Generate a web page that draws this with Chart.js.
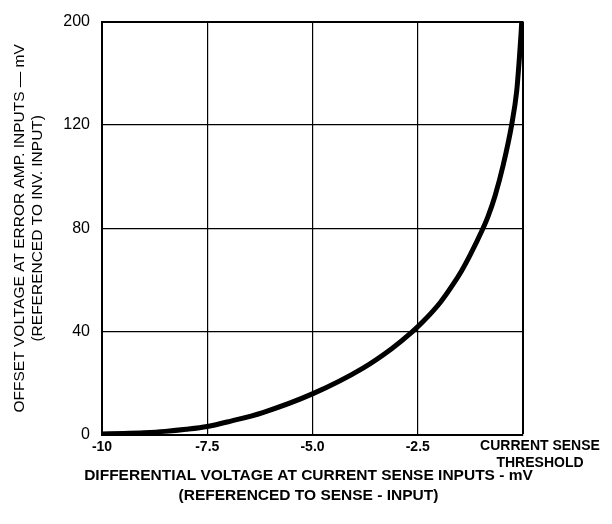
<!DOCTYPE html>
<html>
<head>
<meta charset="utf-8">
<script src="https://cdn.jsdelivr.net/npm/chart.js@4/dist/chart.umd.min.js"></script>
<style>
  html, body { margin: 0; padding: 0; background: #fff; }
  #wrap { width: 612px; height: 524px; }
</style>
</head>
<body>
<div id="wrap"><canvas id="c" width="612" height="524"></canvas></div>
<script>
// Differential voltage (mV)
const xValues = [-10, -9.5, -9, -8.5, -8, -7.5, -6.96, -6.18, -4.99, -3.8, -3.12, -2.64, -2.38, -1.97, -1.69, -1.46, -1.26, -0.96, -0.83, -0.665, -0.47, -0.27, -0.15, -0.09, -0.06, -0.04, -0.03];
// Offset voltage in grid units (each grid division = 40)
const yValues = [0.4, 0.6, 0.9, 1.4, 2.2, 3.3, 5.3, 8.7, 16.0, 25.9, 33.4, 39.8, 43.8, 51.2, 57.6, 63.5, 69.5, 79.6, 84.6, 92.5, 104.5, 120, 133, 145, 152, 157, 160];
const xTickValues = [-10, -7.5, -5, -2.5, 0];
const xTickLabels = ['-10', '-7.5', '-5.0', '-2.5', ''];
const thresholdLabel = ['CURRENT SENSE', 'THRESHOLD'];
const yTickValues = [0, 40, 80, 120, 160];
const yTickLabels = ['0', '40', '80', '120', '200'];
const xTitle = ['DIFFERENTIAL VOLTAGE AT CURRENT SENSE INPUTS - mV', '(REFERENCED TO SENSE - INPUT)'];
const yTitle = ['OFFSET VOLTAGE AT ERROR AMP. INPUTS \u2014 mV', '(REFERENCED TO INV. INPUT)'];

const points = xValues.map((x, i) => ({ x: x, y: yValues[i] }));
const FONT = '"Liberation Sans", Arial, sans-serif';

// Extra axis text: threshold tick label (offset right of the last gridline) and
// the x-axis title, which is wider than the plot area in the reference.
const axisTextPlugin = {
  id: 'axisText',
  afterDraw(chart) {
    const xs = chart.scales.x;
    const ctx = chart.ctx;
    const area = chart.chartArea;
    ctx.save();
    ctx.fillStyle = '#000';
    ctx.textAlign = 'center';
    ctx.textBaseline = 'middle';
    ctx.font = 'bold 14px ' + FONT;
    const px = xs.getPixelForValue(0) + 17;
    thresholdLabel.forEach((t, i) => ctx.fillText(t, px, area.bottom + 11 + i * 17));
    ctx.font = 'bold 15.5px ' + FONT;
    const cx = (area.left + area.right) / 2 - 4;
    xTitle.forEach((t, i) => ctx.fillText(t, cx, area.bottom + 41 + i * 20));
    ctx.restore();
  }
};

new Chart(document.getElementById('c'), {
  type: 'line',
  data: {
    datasets: [{
      data: points,
      borderColor: '#000',
      borderWidth: 5,
      pointRadius: 0,
      fill: false,
      cubicInterpolationMode: 'monotone'
    }]
  },
  options: {
    responsive: false,
    animation: false,
    layout: { padding: { top: 15, right: 89, left: 0, bottom: 0 } },
    plugins: { legend: { display: false }, tooltip: { enabled: false } },
    scales: {
      x: {
        type: 'linear',
        min: -10, max: 0,
        afterBuildTicks: s => { s.ticks = xTickValues.map(v => ({ value: v })); },
        afterFit: s => { s.height = 89; },
        grid: {
          color: '#000',
          lineWidth: c => (c.tick && c.tick.value === 0) ? 2 : 1.2,
          drawTicks: false
        },
        border: { color: '#000', width: 2 },
        ticks: {
          color: '#000',
          padding: 4,
          maxRotation: 0,
          autoSkip: false,
          font: { family: FONT, size: 14, weight: 'bold' },
          callback: (v) => { const i = xTickValues.indexOf(v); return i >= 0 ? xTickLabels[i] : ''; }
        },
        title: { display: false }
      },
      y: {
        type: 'linear',
        min: 0, max: 160,
        afterBuildTicks: s => { s.ticks = yTickValues.map(v => ({ value: v })); },
        afterFit: s => { s.width = 102; },
        grid: {
          color: '#000',
          lineWidth: c => (c.tick && c.tick.value === 160) ? 2 : 1.2,
          drawTicks: false
        },
        border: { color: '#000', width: 2 },
        ticks: {
          color: '#000',
          padding: 12,
          autoSkip: false,
          font: { family: FONT, size: 16 },
          callback: (v) => { const i = yTickValues.indexOf(v); return i >= 0 ? yTickLabels[i] : ''; }
        },
        title: {
          display: true,
          text: yTitle,
          color: '#000',
          font: { family: FONT, size: 15.5, lineHeight: 1.16 },
          padding: { top: 11, bottom: 0 }
        }
      }
    }
  },
  plugins: [axisTextPlugin]
});
</script>
</body>
</html>
